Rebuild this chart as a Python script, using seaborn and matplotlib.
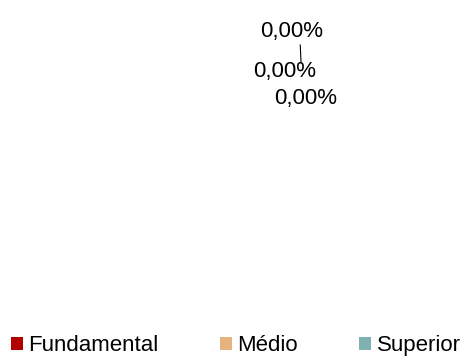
import numpy as np
import matplotlib
matplotlib.use("Agg")
import matplotlib.pyplot as plt
import seaborn as sns
from matplotlib.patches import Patch

# dados do gráfico (todas as fatias com valor zero)
categorias = ["Fundamental", "Médio", "Superior"]
valores = [0.0, 0.0, 0.0]
cores = ["#B00000", "#E6B27E", "#7FB1B1"]

sns.set_theme(style="white")
plt.rcParams["font.family"] = ["Liberation Sans", "DejaVu Sans"]

W, H = 463, 356
fig = plt.figure(figsize=(W / 100, H / 100), dpi=100)
fig.patch.set_facecolor("white")

# eixo da pizza: centro em (301, 162) px, raio 100 px
ax = fig.add_axes([181 / W, 74 / H, 240 / W, 240 / H])
ax.set_xlim(-1.2, 1.2)
ax.set_ylim(-1.2, 1.2)
ax.set_aspect("equal")
ax.axis("off")

total = sum(valores)
pcts = [(v / total * 100) if total else 0.0 for v in valores]

# ângulo médio de cada fatia (começa em 90°, sentido horário)
ang = 90.0
meios = []
for v in valores:
    frac = v / total if total else 0.0
    meios.append(ang - frac * 360 / 2)
    ang -= frac * 360

# deslocamentos dos rótulos (pontos) para não se sobreporem
offsets = [(-7, 22.3), (-11.5, -6.5), (3.5, -26.5)]
for i, (p, a) in enumerate(zip(pcts, meios)):
    x, y = np.cos(np.radians(a)), np.sin(np.radians(a))
    txt = f"{p:.2f}%".replace(".", ",")
    props = None
    if i == 0:
        props = dict(arrowstyle="-", color="black", lw=0.8,
                     relpos=(0.64, 0.0), shrinkA=0, shrinkB=0)
    ax.annotate(txt, xy=(x, y), xytext=offsets[i], textcoords="offset points",
                ha="center", va="center", fontsize=16, color="black",
                arrowprops=props)

handles = [Patch(facecolor=c, edgecolor="none", label=n) for c, n in zip(cores, categorias)]
leg = fig.legend(handles=handles, loc="lower left", bbox_to_anchor=(-5 / W, -16 / H),
                 ncol=3, frameon=False, fontsize=16, handlelength=0.55, handleheight=0.55,
                 handletextpad=0.25, columnspacing=2.75, borderpad=0.2)
for t in leg.get_texts():
    t.set_color("black")

fig.savefig("out.png", dpi=100, facecolor="white")
